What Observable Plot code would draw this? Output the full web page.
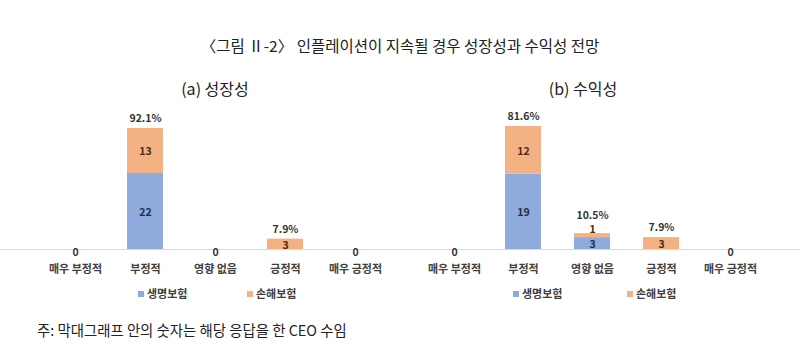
<!DOCTYPE html>
<html><head><meta charset="utf-8">
<script src="https://cdn.jsdelivr.net/npm/d3@7"></script>
<script src="https://cdn.jsdelivr.net/npm/@observablehq/plot@0.6"></script>
<style>
html,body{margin:0;padding:0;background:#fff;}
#wrap{position:relative;width:800px;height:354px;font-family:"Noto Sans CJK KR","Noto Sans",sans-serif;color:#222;overflow:hidden;}
.abs{position:absolute;white-space:nowrap;}
.title{top:34px;left:0;width:800px;text-align:center;font-size:15.5px;line-height:22px;}
.sub{top:77px;font-size:16px;line-height:22px;transform:translateX(-50%);}
.leg{top:286px;font-size:11px;line-height:14px;color:#404040;font-weight:600;}
.leg span.sw{display:inline-block;width:6px;height:6px;margin-right:3px;vertical-align:1px;}
.note{top:320px;left:37px;font-size:14.4px;line-height:20px;color:#222;}
svg{position:absolute;top:100px;}
</style></head>
<body><div id="wrap">
<div class="abs title">〈그림 Ⅱ-2〉 인플레이션이 지속될 경우 성장성과 수익성 전망</div>
<div class="abs sub" style="left:215px">(a) 성장성</div>
<div class="abs sub" style="left:583px">(b) 수익성</div>
<div class="abs note">주: 막대그래프 안의 숫자는 해당 응답을 한 CEO 수임</div>
</div>
<script>
const categories = ["매우 부정적", "부정적", "영향 없음", "긍정적", "매우 긍정적"];
const seriesNames = ["생명보험", "손해보험"];
const colors = ["#8faadc", "#f4b183"];
const textColors = ["#1f2d4d", "#4a2c14"];

// (a) 성장성
const growthLife = [0, 22, 0, 0, 0];
const growthNonLife = [0, 13, 0, 3, 0];
const growthPct = ["0", "92.1%", "0", "7.9%", "0"];
// (b) 수익성
const profitLife = [0, 19, 3, 0, 0];
const profitNonLife = [0, 12, 1, 3, 0];
const profitPct = ["0", "81.6%", "10.5%", "7.9%", "0"];

function makePanel(life, nonlife, pct, xRange, yMax, yTop, left) {
  const rows = [];
  categories.forEach((c, i) => {
    rows.push({cat: c, type: seriesNames[0], value: life[i]});
    rows.push({cat: c, type: seriesNames[1], value: nonlife[i]});
  });
  const totals = categories.map((c, i) => ({cat: c, total: life[i] + nonlife[i], top: nonlife[i], label: pct[i]}));
  const fnt = {fontSize: 10.5, fontWeight: "bold"};
  const plot = Plot.plot({
    width: 400, height: 180,
    marginTop: 0, marginBottom: 0, marginLeft: 0, marginRight: 0,
    style: {fontFamily: '"Noto Sans CJK KR","Noto Sans",sans-serif', background: "transparent", overflow: "visible"},
    x: {domain: categories, range: xRange, paddingInner: 0.48, paddingOuter: 0.24, axis: null},
    y: {domain: [0, yMax], range: [149, yTop], axis: null},
    color: {domain: seriesNames, range: colors},
    marks: [
      Plot.barY(rows, {x: "cat", y: "value", fill: "type", order: seriesNames}),
      Plot.ruleY([0], {stroke: "#d9d9d9", strokeWidth: 1}),
      // labels inside segments (regular height) at segment middle
      Plot.text(rows, Plot.stackY({
        x: "cat", y: "value", order: seriesNames, dy: 1,
        text: d => d.value >= 2 ? String(d.value) : "",
        fill: d => textColors[seriesNames.indexOf(d.type)], ...fnt
      })),
      // labels for very thin segments: placed just above the segment top
      Plot.text(rows, Plot.stackY2({
        x: "cat", y: "value", order: seriesNames,
        text: d => d.value > 0 && d.value < 2 ? String(d.value) : "",
        fill: d => textColors[seriesNames.indexOf(d.type)], dy: -4, ...fnt
      })),
      // percentage above bars
      Plot.text(totals, {
        filter: d => d.total > 0 && d.top >= 2,
        x: "cat", y: "total", text: "label", dy: -10, fill: "#333", ...fnt
      }),
      Plot.text(totals, {
        filter: d => d.total > 0 && d.top < 2,
        x: "cat", y: "total", text: "label", dy: -18, fill: "#333", ...fnt
      }),
      // zero labels
      Plot.text(totals, {
        filter: d => d.total === 0,
        x: "cat", y: 0, text: "label", dy: 3, fill: "#333", ...fnt
      }),
      // category labels
      Plot.text(totals, {
        x: "cat", y: 0, text: "cat", dy: 20,
        fill: "#404040", fontSize: 11, fontWeight: "bold"
      })
    ]
  });
  plot.style.left = left + "px";
  document.getElementById("wrap").appendChild(plot);
}

makePanel(growthLife, growthNonLife, growthPct, [40, 390], 35, 28, 0);
makePanel(profitLife, profitNonLife, profitPct, [18, 365], 31, 26, 400);

// legends
const legendPos = [[138, 247], [513, 627]];
legendPos.forEach(pos => {
  pos.forEach((x, i) => {
    const d = document.createElement("div");
    d.className = "abs leg";
    d.style.left = x + "px";
    d.innerHTML = `<span class="sw" style="background:${colors[i]}"></span>${seriesNames[i]}`;
    document.getElementById("wrap").appendChild(d);
  });
});
</script>
</body></html>
